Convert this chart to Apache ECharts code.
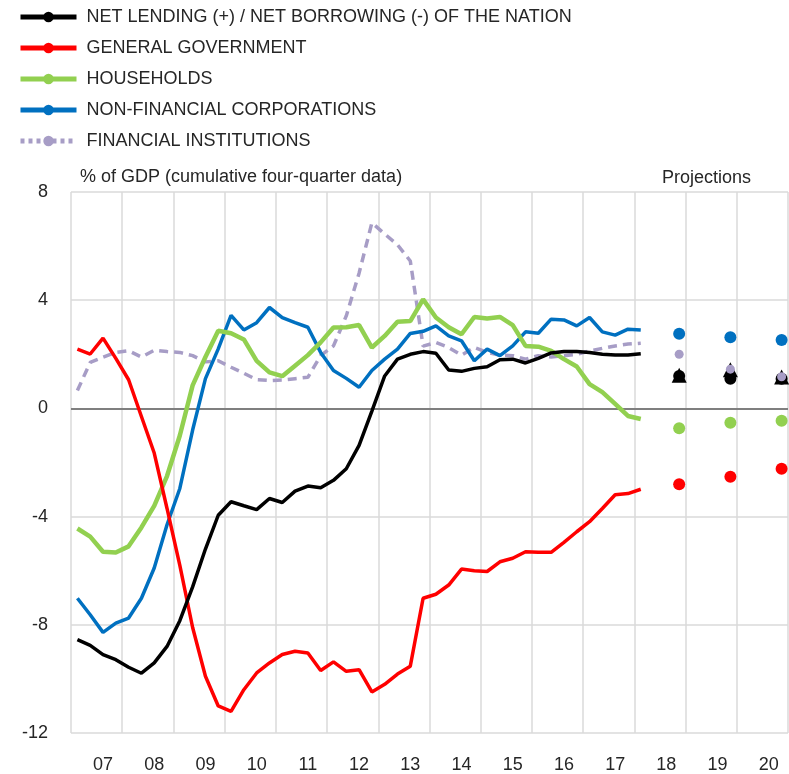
<!DOCTYPE html>
<html>
<head>
<meta charset="utf-8">
<script src="https://cdn.jsdelivr.net/npm/echarts@6/dist/echarts.min.js"></script>
<style>
    html, body { margin: 0; padding: 0; background: #fff; }
    #chart { width: 789px; height: 774px; }
</style>
</head>
<body>
<div id="chart"></div>
<script>
// quarterly slots 2007Q1 .. 2020Q4, observed data 2007Q1 .. 2018Q1
const years = ['07', '08', '09', '10', '11', '12', '13', '14', '15', '16', '17', '18', '19', '20']
const quarters = []
years.forEach(y => { ['Q1', 'Q2', 'Q3', 'Q4'].forEach(q => quarters.push(y + q)) })

const nation = [-8.55, -8.76, -9.1, -9.29, -9.57, -9.79, -9.41, -8.8, -7.85, -6.6,
    -5.2, -3.95, -3.45, -3.6, -3.74, -3.33, -3.48, -3.06, -2.87, -2.93,
    -2.66, -2.23, -1.37, -0.1, 1.2, 1.82, 2.0, 2.1, 2.04, 1.42,
    1.37, 1.48, 1.54, 1.8, 1.82, 1.68, 1.85, 2.05, 2.1, 2.1,
    2.07, 2.0, 1.97, 1.97, 2.02]
const government = [2.19, 2.01, 2.6, 1.85, 1.06, -0.3, -1.65, -3.7, -5.8, -8.1,
    -9.9, -11.0, -11.2, -10.4, -9.78, -9.41, -9.1, -8.98, -9.04, -9.69,
    -9.37, -9.72, -9.66, -10.48, -10.2, -9.82, -9.53, -7.02, -6.87, -6.53,
    -5.94, -6.0, -6.03, -5.67, -5.54, -5.3, -5.32, -5.32, -4.95, -4.56,
    -4.19, -3.7, -3.19, -3.15, -2.99]
const households = [-4.44, -4.74, -5.3, -5.33, -5.1, -4.4, -3.6, -2.5, -1.0, 0.85,
    1.9, 2.87, 2.78, 2.55, 1.76, 1.33, 1.19, 1.58, 1.97, 2.44,
    2.99, 3.0, 3.08, 2.25, 2.68, 3.2, 3.23, 4.03, 3.36, 3.0,
    2.74, 3.38, 3.32, 3.38, 3.08, 2.31, 2.28, 2.13, 1.82, 1.55,
    0.9, 0.6, 0.17, -0.28, -0.39]
const corporations = [-7.02, -7.63, -8.28, -7.94, -7.75, -7.02, -5.9, -4.3, -2.96, -0.8,
    1.1, 2.2, 3.44, 2.9, 3.17, 3.73, 3.36, 3.17, 3.0, 2.07,
    1.4, 1.11, 0.78, 1.4, 1.82, 2.19, 2.77, 2.85, 3.05, 2.68,
    2.5, 1.76, 2.19, 1.95, 2.31, 2.83, 2.78, 3.3, 3.27, 3.05,
    3.36, 2.83, 2.71, 2.93, 2.9]
const financial = [0.66, 1.7, 1.89, 2.07, 2.13, 1.9, 2.15, 2.1, 2.07, 1.95,
    1.72, 1.76, 1.52, 1.3, 1.06, 1.03, 1.05, 1.1, 1.15, 1.95,
    2.31, 3.42, 5.0, 6.86, 6.45, 6.05, 5.45, 2.3, 2.44, 2.25,
    1.97, 2.25, 2.07, 1.97, 1.95, 1.82, 1.95, 1.9, 1.95, 2.0,
    2.12, 2.22, 2.31, 2.38, 2.41]

// projections, plotted in the Q4 slot of each year
const projYears = ['18', '19', '20']
const projNation = [1.2, 1.1, 1.1]
const projNationAlt = [1.23, 1.43, 1.16]
const projGovernment = [-2.8, -2.53, -2.23]
const projHouseholds = [-0.73, -0.53, -0.46]
const projCorporations = [2.76, 2.63, 2.53]
const projFinancial = [2.0, 1.45, 1.17]

const yTicks = [-12, -8, -4, 0, 4, 8]

const names = {
    nation: 'NET LENDING (+) / NET BORROWING (-) OF THE NATION',
    government: 'GENERAL GOVERNMENT',
    households: 'HOUSEHOLDS',
    corporations: 'NON-FINANCIAL CORPORATIONS',
    financial: 'FINANCIAL INSTITUTIONS'
}
const colors = {
    nation: '#000000',
    government: '#ff0000',
    households: '#92d050',
    corporations: '#0070c0',
    financial: '#a79dc6'
}

const font = 'Liberation Sans, Arial, sans-serif'
const textColor = '#262626'

const proj = (vals) => vals.map((v, i) => [quarters.indexOf(projYears[i] + 'Q4'), v])

const lineSeries = (key, data, width, dash) => ({
    name: names[key],
    type: 'line',
    data: data,
    symbol: 'circle',
    symbolSize: 10,
    showSymbol: false,
    lineStyle: { color: colors[key], width: width, type: dash || 'solid', cap: 'butt' },
    itemStyle: { color: colors[key] },
    z: 3
})

const scatterSeries = (name, color, data, symbol, size, z) => ({
    name: name,
    type: 'scatter',
    data: data,
    symbol: symbol,
    symbolSize: size,
    itemStyle: { color: color, opacity: 1 },
    z: z
})

const chart = echarts.init(document.getElementById('chart'))

chart.setOption({
    animation: false,
    backgroundColor: '#fff',
    textStyle: { fontFamily: font },
    grid: { left: 71, right: 1, top: 192, bottom: 39 },
    legend: {
        orient: 'vertical',
        left: 18,
        top: 8,
        padding: 0,
        itemWidth: 56,
        itemHeight: 13,
        itemGap: 13,
        textStyle: { fontSize: 18, color: textColor, fontFamily: font, lineHeight: 18, padding: [0, 0, 0, 5] },
        lineStyle: { width: 5 },
        data: [
            { name: names.nation },
            { name: names.government },
            { name: names.households },
            { name: names.corporations },
            { name: names.financial, lineStyle: { type: [4, 4], width: 5 } }
        ]
    },
    graphic: [
        {
            type: 'text', left: 80, top: 168,
            style: { text: '% of GDP (cumulative four-quarter data)', fontSize: 18, fontFamily: font, fill: textColor }
        },
        {
            type: 'text', left: 662, top: 169,
            style: { text: 'Projections', fontSize: 18, fontFamily: font, fill: textColor }
        }
    ],
    xAxis: {
        type: 'category',
        data: quarters,
        boundaryGap: true,
        axisLine: { show: false },
        axisTick: { show: false },
        axisLabel: {
            interval: (i) => i % 4 === 2,
            formatter: (v) => v.slice(0, 2),
            fontSize: 18,
            color: textColor,
            margin: 23
        },
        splitLine: {
            show: true,
            interval: (i) => i % 4 === 0,
            lineStyle: { color: '#dadada', width: 1.5 }
        }
    },
    yAxis: {
        type: 'value',
        min: yTicks[0],
        max: yTicks[yTicks.length - 1],
        interval: 4,
        axisLine: { show: false },
        axisTick: { show: false },
        axisLabel: { fontSize: 18, color: textColor, margin: 23 },
        splitLine: { lineStyle: { color: '#dadada', width: 1.5 } }
    },
    series: [
        Object.assign(lineSeries('financial', financial, 3.5, [9, 6]), {
            markLine: {
                silent: true,
                symbol: 'none',
                label: { show: false },
                lineStyle: { color: '#7f7f7f', width: 2, type: 'solid' },
                data: [{ yAxis: 0 }],
                z: 2
            }
        }),
        lineSeries('corporations', corporations, 3.5),
        lineSeries('households', households, 4.5),
        lineSeries('government', government, 3.5),
        lineSeries('nation', nation, 3.5),
        scatterSeries('proj-corporations', colors.corporations, proj(projCorporations), 'circle', 12, 4),
        scatterSeries('proj-households', colors.households, proj(projHouseholds), 'circle', 12, 4),
        scatterSeries('proj-government', colors.government, proj(projGovernment), 'circle', 12, 4),
        scatterSeries('proj-nation', colors.nation, proj(projNation), 'circle', 12, 4),
        scatterSeries('proj-nation-alt', colors.nation, proj(projNationAlt), 'triangle', 15, 5),
        scatterSeries('proj-financial', colors.financial, proj(projFinancial), 'circle', 9, 6)
    ]
})
</script>
</body>
</html>
